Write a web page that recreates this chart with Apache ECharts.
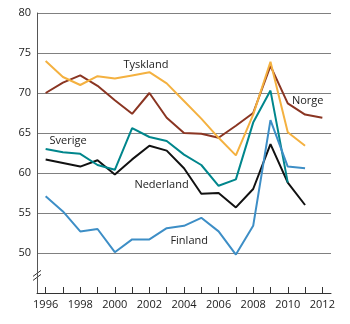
<!DOCTYPE html>
<html><head><meta charset="utf-8">
<script src="https://cdn.jsdelivr.net/npm/echarts@6/dist/echarts.min.js"></script>
<style>html,body{margin:0;padding:0;background:#fff}#c{width:350px;height:324px}</style>
</head><body><div id="c"></div>
<script>
var years = [1996,1997,1998,1999,2000,2001,2002,2003,2004,2005,2006,2007,2008,2009,2010,2011,2012];
var xTickLabels = [1996,1998,2000,2002,2004,2006,2008,2010,2012];
var yTickLabels = [50,55,60,65,70,75,80];
var tyskland  = [74.0,72.0,71.0,72.1,71.8,72.2,72.6,71.2,69.0,66.8,64.4,62.2,67.3,73.9,65.1,63.4,null];
var norge     = [70.0,71.3,72.2,70.9,69.1,67.4,70.0,66.9,65.0,64.9,64.4,65.9,67.5,73.4,68.7,67.3,66.9];
var sverige   = [63.0,62.6,62.4,61.0,60.4,65.6,64.5,64.0,62.3,61.0,58.4,59.2,66.3,70.3,58.8,null,null];
var nederland = [61.7,61.25,60.8,61.6,59.8,61.7,63.4,62.8,60.6,57.4,57.5,55.7,58.0,63.6,58.8,56.0,null];
var finland   = [57.1,55.2,52.7,53.0,50.1,51.7,51.7,53.1,53.4,54.4,52.7,49.8,53.4,66.6,60.8,60.6,null];
var seriesNames = ['Tyskland','Norge','Sverige','Nederland','Finland'];
var labelAnchors = {Tyskland:[2001.8,73.5], Norge:[2011.15,69.0], Sverige:[1997.3,64.0], Nederland:[2002.7,58.55], Finland:[2004.3,51.5]};

function pairs(arr){ return years.map(function(y,i){ return arr[i]==null? null : [y, arr[i]]; }).filter(function(p){return p;}); }

var FONT = '"Open Sans", "Noto Sans", sans-serif';
var chart = echarts.init(document.getElementById('c'), null, {renderer:'canvas'});
function line(name, arr, color){
  return {name:name, type:'line', data:pairs(arr), symbol:'none', silent:true,
    lineStyle:{color:color, width:2}, animation:false};
}
chart.setOption({
  animation:false,
  grid:{left:37, right:19, top:13, bottom:31, containLabel:false},
  xAxis:{type:'value', min:1995.5, max:2012.5,
    axisLine:{show:true, lineStyle:{color:'#333', width:1}},
    axisTick:{show:true, inside:true, length:6, lineStyle:{color:'#333'}, customValues:years},
    axisLabel:{show:true, color:'#222', fontSize:11, fontFamily:FONT, margin:6, customValues:xTickLabels,
      formatter:function(v){return String(v);} },
    splitLine:{show:false}
  },
  yAxis:{type:'value', min:45, max:80, interval:5,
    axisLine:{show:true, lineStyle:{color:'#555', width:1}},
    axisTick:{show:false},
    axisLabel:{color:'#222', fontSize:11, fontFamily:FONT, margin:6,
      formatter:function(v){ return yTickLabels.indexOf(v)>=0 ? String(v) : ''; }},
    splitLine:{show:true, lineStyle:{color:'#808080', width:1}}
  },
  series:[
    line('Norge', norge, '#8a3522'),
    line('Tyskland', tyskland, '#f4b140'),
    line('Nederland', nederland, '#111111'),
    line('Sverige', sverige, '#00868c'),
    line('Finland', finland, '#3d8ec6')
  ]
});
var g = [];
seriesNames.forEach(function(n){
  var p = chart.convertToPixel({gridIndex:0}, labelAnchors[n]);
  g.push({type:'text', x:p[0], y:p[1], silent:true,
    style:{text:n, fill:'#222', font:'11px ' + FONT, align:'center', verticalAlign:'middle'}});
});
var b = chart.convertToPixel({gridIndex:0}, [1995.5, 47.2]);
[-2, 2].forEach(function(d){
  g.push({type:'line', silent:true, shape:{x1:b[0]-4, y1:b[1]+d+3, x2:b[0]+4, y2:b[1]+d-3},
    style:{stroke:'#333', lineWidth:1}});
});
chart.setOption({graphic:g});
</script></body></html>
